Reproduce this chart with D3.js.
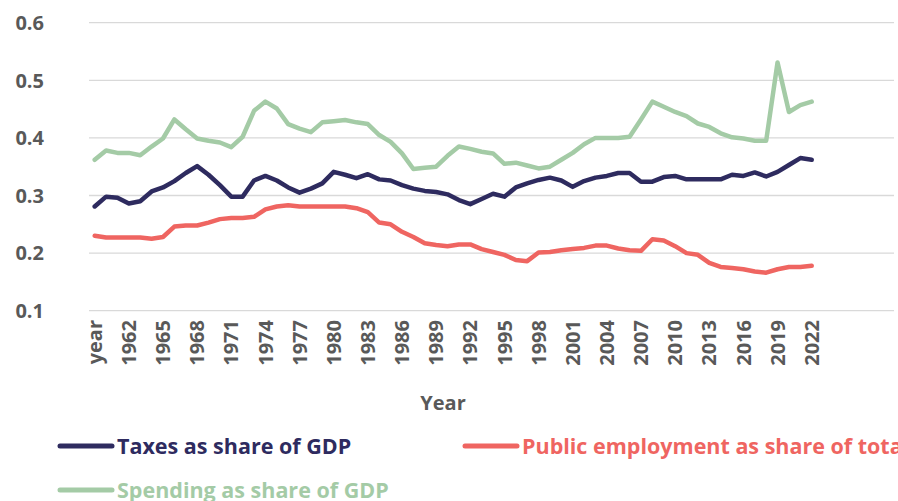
<!DOCTYPE html>
<html>
<head>
<meta charset="utf-8">
<script src="https://cdn.jsdelivr.net/npm/d3@7"></script>
<style>
  html, body { margin: 0; padding: 0; background: #fff; overflow: hidden; }
  svg { display: block; }
  text { font-family: "Open Sans", "DejaVu Sans", sans-serif; font-weight: 700; }
</style>
</head>
<body>
<svg id="chart" width="898" height="501"></svg>
<script>
const categories = ["year"].concat(d3.range(1960, 2023).map(String));
const yTicks = [0.1, 0.2, 0.3, 0.4, 0.5, 0.6];
const seriesNames = ["Taxes as share of GDP", "Public employment as share of total employment", "Spending as share of GDP"];
const seriesColors = ["#2e2b5f", "#ef6561", "#a4cba6"];

const taxes = [0.281,0.298,0.296,0.286,0.290,0.307,0.314,0.325,0.339,0.351,
  0.336,0.318,0.298,0.298,0.326,0.334,0.326,0.314,0.305,0.312,
  0.321,0.341,0.336,0.330,0.337,0.328,0.326,0.318,0.312,0.308,
  0.306,0.302,0.292,0.285,0.294,0.303,0.298,0.314,0.321,0.327,
  0.331,0.326,0.315,0.325,0.331,0.334,0.339,0.339,0.324,0.324,
  0.332,0.334,0.328,0.328,0.328,0.328,0.336,0.334,0.340,0.333,
  0.341,0.353,0.365,0.362];
const publicEmployment = [0.230,0.227,0.227,0.227,0.227,0.225,0.228,0.246,0.248,0.248,
  0.253,0.259,0.261,0.261,0.263,0.276,0.281,0.283,0.281,0.281,
  0.281,0.281,0.281,0.278,0.271,0.253,0.250,0.237,0.228,0.217,
  0.214,0.212,0.215,0.215,0.207,0.202,0.197,0.188,0.186,0.201,
  0.202,0.205,0.207,0.209,0.213,0.213,0.208,0.205,0.204,0.224,
  0.222,0.212,0.200,0.197,0.183,0.176,0.174,0.172,0.168,0.166,
  0.172,0.176,0.176,0.178];
const spending = [0.362,0.378,0.374,0.374,0.370,0.385,0.399,0.432,0.415,0.399,
  0.395,0.392,0.384,0.402,0.447,0.463,0.451,0.424,0.416,0.410,
  0.427,0.429,0.431,0.427,0.424,0.405,0.393,0.373,0.346,0.348,
  0.350,0.369,0.385,0.381,0.376,0.373,0.355,0.357,0.352,0.347,
  0.350,0.362,0.374,0.389,0.400,0.400,0.400,0.402,0.432,0.463,
  0.454,0.445,0.438,0.425,0.419,0.408,0.401,0.399,0.395,0.395,
  0.531,0.445,0.457,0.463];

const seriesData = [taxes, publicEmployment, spending];

const svg = d3.select("#chart");
const gridLeft = 89, gridRight = 894;
const x = d3.scalePoint().domain(categories).range([94.7, 811.7]);
const y = d3.scaleLinear().domain([0.1, 0.6]).range([310.7, 22.7]);

// gridlines
svg.append("g").selectAll("line").data(yTicks).join("line")
  .attr("x1", gridLeft).attr("x2", gridRight)
  .attr("y1", d => y(d)).attr("y2", d => y(d))
  .attr("stroke", "#d9d9d9").attr("stroke-width", 1.3);

// y labels
svg.append("g").selectAll("text").data(yTicks).join("text")
  .attr("x", 44).attr("y", d => y(d)).attr("dy", "0.36em")
  .attr("text-anchor", "end").attr("fill", "#595959")
  .style("font-size", "20px")
  .text(d => d.toFixed(1));

// x labels
const xLabels = categories.filter((c, i) => i % 3 === 0);
svg.append("g").selectAll("text").data(xLabels).join("text")
  .attr("transform", d => `translate(${x(d)},320) rotate(-90)`)
  .attr("dy", "0.36em")
  .attr("text-anchor", "end").attr("fill", "#595959")
  .style("font-size", "20px")
  .text(d => d);

// axis title
svg.append("text").attr("x", 443).attr("y", 403).attr("dy", "0.36em")
  .attr("text-anchor", "middle").attr("fill", "#595959")
  .style("font-size", "20px").text("Year");

// lines
const line = d3.line().x((d, i) => x(categories[i])).y(d => y(d));
svg.append("g").selectAll("path").data(seriesData).join("path")
  .attr("d", d => line(d))
  .attr("fill", "none")
  .attr("stroke", (d, i) => seriesColors[i])
  .attr("stroke-width", 4.5)
  .attr("stroke-linejoin", "round")
  .attr("stroke-linecap", "round");

// legend
const legendPos = [[60, 446], [465, 446], [60, 490]];
const lg = svg.append("g").selectAll("g").data(seriesNames).join("g")
  .attr("transform", (d, i) => `translate(${legendPos[i][0]},${legendPos[i][1]})`);
lg.append("line").attr("x1", 0).attr("x2", 52).attr("y1", 0).attr("y2", 0)
  .attr("stroke", (d, i) => seriesColors[i]).attr("stroke-width", 5)
  .attr("stroke-linecap", "round");
lg.append("text").attr("x", 57).attr("dy", "0.36em")
  .attr("fill", (d, i) => seriesColors[i])
  .style("font-size", "21.5px")
  .text(d => d);
</script>
</body>
</html>
